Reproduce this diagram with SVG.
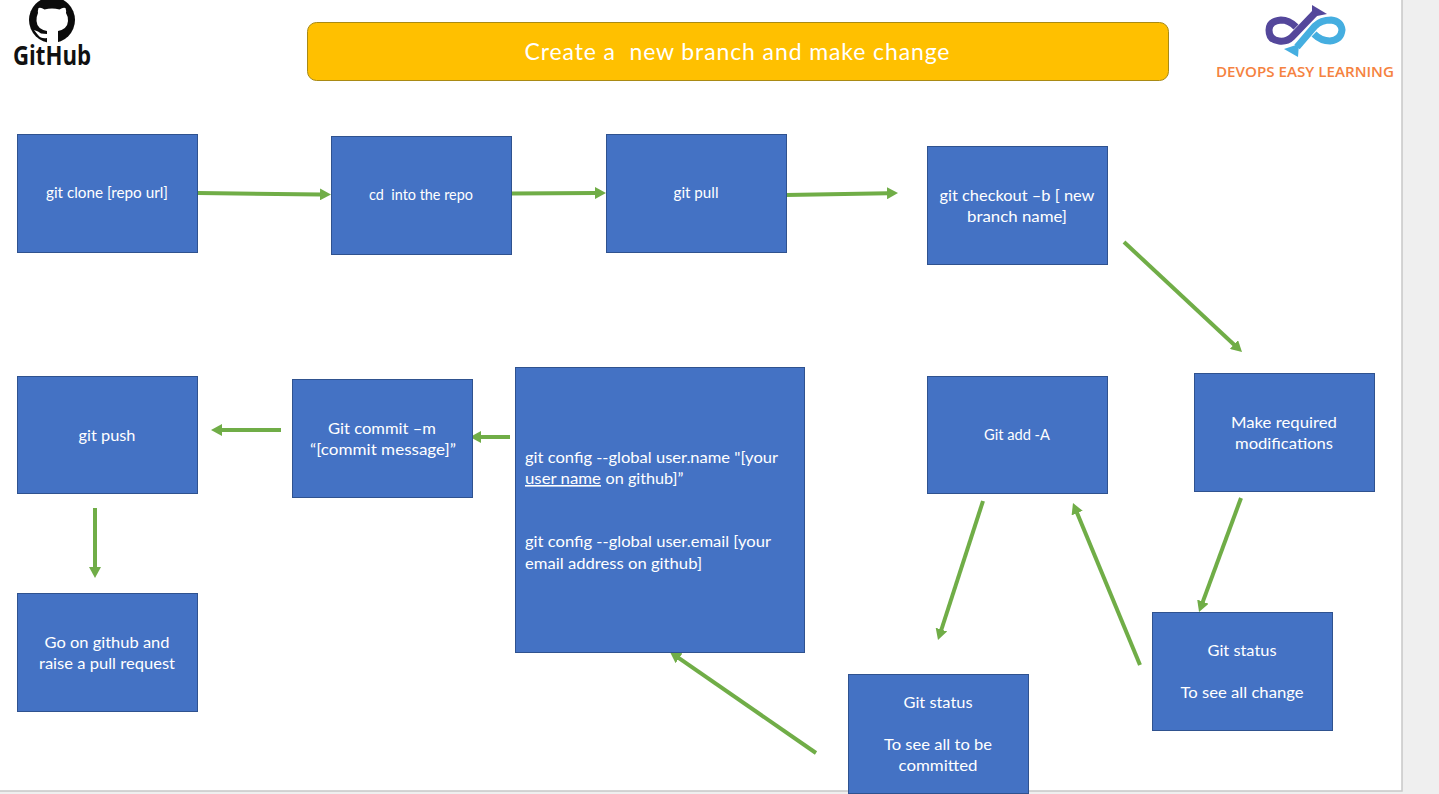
<svg xmlns="http://www.w3.org/2000/svg" width="1439" height="794" viewBox="0 0 1439 794">
<style>
.n{fill:#4472C4;stroke:#2F528F;stroke-width:1}
.t{font-family:Lato,"Open Sans",sans-serif;font-size:16px;fill:#fff;text-anchor:middle}
.l{text-anchor:start}
.c{stroke:#70AD47;stroke-width:4;fill:none;marker-end:url(#a)}
</style>
<defs>
<marker id="a" markerUnits="userSpaceOnUse" markerWidth="12" markerHeight="12" refX="1" refY="6" orient="auto"><path d="M0 0L11 6L0 12Z" fill="#70AD47"/></marker>
</defs>
<rect width="1439" height="794" fill="#EFEFEF"/>
<rect x="0" y="0" width="1402" height="791" fill="#fff"/>
<path d="M1402 0V791H0" fill="none" stroke="#C8C8C8" stroke-width="1.500"/>
<g id="logo-github">
<circle cx="52" cy="20" r="23" fill="#0b0b0b"/>
<path fill="#fff" d="M38.500 8Q41 7 44.500 9.500Q52 7.500 59.500 9.500Q63 7 65.500 8Q66.500 11 66 13Q68 16 68 21Q67.500 29 58 31V44H47V38Q41 39 38 35L34 30L38 31.500L41 33.500L47 34V31Q37 29 36.500 21Q36.500 16 38 13Q37.500 11 38.500 8Z"/>
<text x="52" y="65" font-family="'Open Sans',sans-serif" font-weight="700" font-size="26.500" fill="#111" text-anchor="middle" textLength="78" lengthAdjust="spacingAndGlyphs">GitHub</text>
</g>
<g id="logo-devops">
<path d="M1296 27Q1289 20 1281 20Q1269 21 1269 30Q1269 40 1279 41Q1287 42 1292 37L1315 13" fill="none" stroke="#54479B" stroke-width="7"/>
<path d="M1312 5L1327 14L1312 17Z" fill="#54479B"/>
<path d="M1314 34Q1321 41 1330 41Q1341 40 1342 30Q1341 21 1331 20Q1321 20 1315 26L1297 47" fill="none" stroke="#45AEE0" stroke-width="7"/>
<path d="M1284 49L1299 44L1298 57Z" fill="#45AEE0"/>
<text x="1305" y="77" font-family="'Open Sans',sans-serif" font-weight="600" font-size="14" fill="#F58240" text-anchor="middle" textLength="178" lengthAdjust="spacingAndGlyphs">DEVOPS EASY LEARNING</text>
</g>
<g id="title">
<rect x="307.500" y="22.500" width="861" height="58" rx="9" fill="#FFC000" stroke="#A98A14"/>
<text x="737" y="60" font-family="Lato,sans-serif" font-size="23" fill="#fff" text-anchor="middle" textLength="425" xml:space="preserve">Create a  new branch and make change</text>
</g>
<g id="connectors">
<path class="c" d="M198 193L321 194.400"/>
<path class="c" d="M511 193.500L596 193"/>
<path class="c" d="M786 195L888 193.200"/>
<path class="c" d="M1124 242L1234.700 345.200"/>
<path class="c" d="M1241 498L1202.500 602.600"/>
<path class="c" d="M1140 665L1076.800 512.200"/>
<path class="c" d="M983 501L941.100 630.500"/>
<path class="c" d="M816 753L678.200 657.700"/>
<path class="c" d="M510 437L480 437"/>
<path class="c" d="M281 430L221 430"/>
<path class="c" d="M95 508V568"/>
</g>
<g id="n1"><rect class="n" x="17.500" y="134.500" width="180" height="118"/><text class="t" x="107" y="198" textLength="122" lengthAdjust="spacingAndGlyphs">git clone [repo url]</text></g>
<g id="n2"><rect class="n" x="331.500" y="136.500" width="180" height="118"/><text class="t" x="421" y="200" style="font-size:14.500px" textLength="104" lengthAdjust="spacingAndGlyphs" xml:space="preserve">cd  into the repo</text></g>
<g id="n3"><rect class="n" x="606.500" y="134.500" width="180" height="118"/><text class="t" x="696" y="198" textLength="45" lengthAdjust="spacingAndGlyphs">git pull</text></g>
<g id="n4"><rect class="n" x="927.500" y="146.500" width="180" height="118"/><text class="t" x="1017" y="201" textLength="155" lengthAdjust="spacingAndGlyphs">git checkout –b [ new</text><text class="t" x="1017" y="222" textLength="100" lengthAdjust="spacingAndGlyphs">branch name]</text></g>
<g id="n5"><rect class="n" x="1194.500" y="373.500" width="180" height="118"/><text class="t" x="1284" y="428" textLength="106" lengthAdjust="spacingAndGlyphs">Make required</text><text class="t" x="1284" y="449" textLength="98" lengthAdjust="spacingAndGlyphs">modifications</text></g>
<g id="n6"><rect class="n" x="927.500" y="376.500" width="180" height="117"/><text class="t" x="1017" y="440" style="font-size:14.500px" textLength="66" lengthAdjust="spacingAndGlyphs">Git add -A</text></g>
<g id="n7"><rect class="n" x="1152.500" y="612.500" width="180" height="118"/><text class="t" x="1242" y="656" textLength="69" lengthAdjust="spacingAndGlyphs">Git status</text><text class="t" x="1242" y="698" textLength="123" lengthAdjust="spacingAndGlyphs">To see all change</text></g>
<g id="n8"><rect class="n" x="848.500" y="674.500" width="180" height="119"/><text class="t" x="938" y="708" textLength="69" lengthAdjust="spacingAndGlyphs">Git status</text><text class="t" x="938" y="750" textLength="108" lengthAdjust="spacingAndGlyphs">To see all to be</text><text class="t" x="938" y="771" textLength="79" lengthAdjust="spacingAndGlyphs">committed</text></g>
<g id="n9"><rect class="n" x="515.500" y="367.500" width="289" height="285"/>
<text class="t l" x="525" y="463" textLength="253" lengthAdjust="spacingAndGlyphs">git config --global user.name "[your</text>
<text class="t l" x="525" y="484" textLength="76" lengthAdjust="spacingAndGlyphs" text-decoration="underline">user name</text>
<text class="t l" x="605.500" y="484" textLength="78" lengthAdjust="spacingAndGlyphs">on github]”</text>
<text class="t l" x="525" y="547" textLength="246" lengthAdjust="spacingAndGlyphs">git config --global user.email [your</text>
<text class="t l" x="525" y="569" textLength="177" lengthAdjust="spacingAndGlyphs">email address on github]</text></g>
<g id="n10"><rect class="n" x="292.500" y="379.500" width="180" height="118"/><text class="t" x="382" y="434" textLength="108" lengthAdjust="spacingAndGlyphs">Git commit –m</text><text class="t" x="383" y="455" textLength="146" lengthAdjust="spacingAndGlyphs">“[commit message]”</text></g>
<g id="n11"><rect class="n" x="17.500" y="376.500" width="180" height="117"/><text class="t" x="107" y="441" textLength="57" lengthAdjust="spacingAndGlyphs">git push</text></g>
<g id="n12"><rect class="n" x="17.500" y="593.500" width="180" height="118"/><text class="t" x="107" y="648" textLength="125" lengthAdjust="spacingAndGlyphs">Go on github and</text><text class="t" x="107" y="669" textLength="136" lengthAdjust="spacingAndGlyphs">raise a pull request</text></g>
</svg>
